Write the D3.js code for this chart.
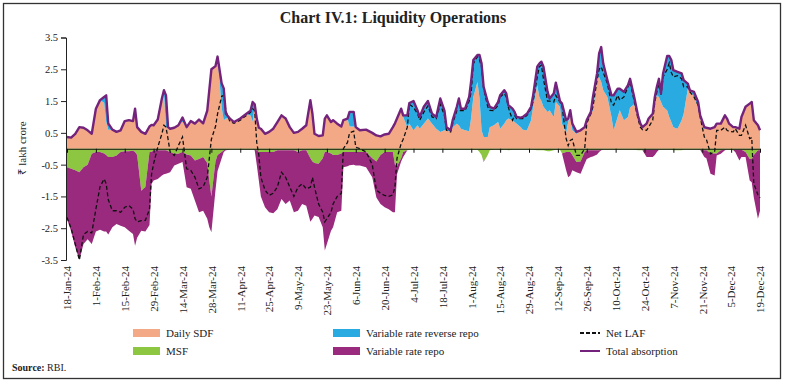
<!DOCTYPE html>
<html>
<head>
<meta charset="utf-8">
<script src="https://cdn.jsdelivr.net/npm/d3@7"></script>
<style>
    body { margin: 0; background: #fff; }
    svg { display: block; font-family: 'Liberation Serif', serif; }
</style>
</head>
<body>
<svg id="mainSvg" width="786" height="384"></svg>
<script>
// * values, ₹ lakh crore
let dates = [
    '2024-01-18', '2024-01-20', '2024-01-22', '2024-01-24', '2024-01-26', '2024-01-28', '2024-01-30',
    '2024-02-01', '2024-02-03', '2024-02-05', '2024-02-06', '2024-02-07', '2024-02-09', '2024-02-11', '2024-02-13', '2024-02-15', '2024-02-17', '2024-02-19', '2024-02-20', '2024-02-21', '2024-02-23', '2024-02-25', '2024-02-27', '2024-02-28', '2024-02-29',
    '2024-03-02', '2024-03-04', '2024-03-05', '2024-03-06', '2024-03-07', '2024-03-08', '2024-03-10', '2024-03-12', '2024-03-14', '2024-03-16', '2024-03-18', '2024-03-20', '2024-03-22', '2024-03-24', '2024-03-26', '2024-03-27', '2024-03-28', '2024-03-30', '2024-03-31',
    '2024-04-02', '2024-04-03', '2024-04-04', '2024-04-06', '2024-04-08', '2024-04-11', '2024-04-14', '2024-04-16', '2024-04-17', '2024-04-18', '2024-04-19', '2024-04-20', '2024-04-21', '2024-04-23', '2024-04-25', '2024-04-27', '2024-04-29',
    '2024-05-01', '2024-05-03', '2024-05-05', '2024-05-07', '2024-05-09', '2024-05-11', '2024-05-13', '2024-05-15', '2024-05-16', '2024-05-17', '2024-05-19', '2024-05-21', '2024-05-22', '2024-05-23', '2024-05-25', '2024-05-26', '2024-05-28', '2024-05-30', '2024-05-31',
    '2024-06-02', '2024-06-03', '2024-06-05', '2024-06-06', '2024-06-08', '2024-06-11', '2024-06-14', '2024-06-16', '2024-06-18', '2024-06-20', '2024-06-22', '2024-06-24', '2024-06-25', '2024-06-26', '2024-06-28', '2024-06-29',
    '2024-07-01', '2024-07-02', '2024-07-04', '2024-07-06', '2024-07-07', '2024-07-09', '2024-07-11', '2024-07-13', '2024-07-15', '2024-07-17', '2024-07-19', '2024-07-20', '2024-07-22', '2024-07-23', '2024-07-25', '2024-07-26', '2024-07-27', '2024-07-29', '2024-07-31',
    '2024-08-01', '2024-08-02', '2024-08-04', '2024-08-05', '2024-08-06', '2024-08-07', '2024-08-09', '2024-08-10', '2024-08-12', '2024-08-14', '2024-08-15', '2024-08-17', '2024-08-18', '2024-08-19', '2024-08-21', '2024-08-22', '2024-08-23', '2024-08-25', '2024-08-26', '2024-08-28', '2024-08-30', '2024-08-31',
    '2024-09-02', '2024-09-03', '2024-09-04', '2024-09-05', '2024-09-07', '2024-09-08', '2024-09-10', '2024-09-11', '2024-09-13', '2024-09-14', '2024-09-16', '2024-09-17', '2024-09-18', '2024-09-19', '2024-09-21', '2024-09-23', '2024-09-25', '2024-09-26', '2024-09-28', '2024-09-29',
    '2024-10-01', '2024-10-02', '2024-10-03', '2024-10-04', '2024-10-06', '2024-10-08', '2024-10-09', '2024-10-11', '2024-10-12', '2024-10-14', '2024-10-16', '2024-10-17', '2024-10-19', '2024-10-21', '2024-10-22', '2024-10-23', '2024-10-25', '2024-10-26', '2024-10-28', '2024-10-29', '2024-10-30', '2024-10-31',
    '2024-11-01', '2024-11-02', '2024-11-04', '2024-11-05', '2024-11-06', '2024-11-07', '2024-11-09', '2024-11-11', '2024-11-12', '2024-11-14', '2024-11-15', '2024-11-17', '2024-11-19', '2024-11-20', '2024-11-22', '2024-11-23', '2024-11-25', '2024-11-27', '2024-11-28', '2024-11-30',
    '2024-12-02', '2024-12-03', '2024-12-04', '2024-12-06', '2024-12-07', '2024-12-09', '2024-12-10', '2024-12-12', '2024-12-14', '2024-12-15', '2024-12-16', '2024-12-18', '2024-12-19'
]

let sdf = [
    0.37, 0.35, 0.47, 0.68, 0.66, 0.58, 0.47,
    1.26, 1.53, 1.45, 0.85, 0.6, 0.6, 0.53, 0.58, 0.87, 0.9, 0.87, 1.26, 0.68, 0.53, 0.47, 0.7, 0.75, 0.74,
    0.92, 1.55, 1.75, 0.68, 0.68, 0.63, 0.66, 0.74, 0.85, 0.68, 0.87, 0.79, 0.92, 0.8, 1.2, 1.85, 2.5, 2.6, 2.9,
    1.3, 0.9, 0.95, 0.95, 0.84, 0.95, 1.1, 1.05, 0.85, 1.35, 0.95, 0.66, 0.63, 0.47, 0.53, 0.63, 0.84,
    1.05, 0.95, 0.68, 0.5, 0.53, 0.63, 0.74, 1.53, 1.1, 0.47, 0.4, 0.42, 0.95, 1.05, 0.84, 0.9, 0.79, 0.7, 0.9,
    0.95, 0.7, 0.7, 0.68, 0.58, 0.6, 0.5, 0.42, 0.39, 0.45, 0.47, 0.68, 0.8, 0.95, 1.26, 1.0,
    0.68, 0.79, 0.58, 0.74, 0.63, 0.79, 0.95, 0.79, 0.63, 0.53, 0.58, 0.58, 0.53, 0.68, 0.79, 0.74, 0.63, 0.58, 0.55,
    1.0, 1.63, 2.1, 1.6, 0.58, 0.37, 0.37, 0.68, 0.74, 0.84, 0.63, 0.79, 0.9, 0.95, 0.9, 0.84, 0.79, 0.68, 0.6, 0.58, 0.9, 1.32,
    2.0, 1.63, 1.5, 1.32, 1.16, 1.21, 1.0, 1.47, 1.32, 0.79, 0.5, 0.84, 1.1, 0.58, 0.47, 0.58, 0.68, 0.9, 1.1, 1.21,
    2.2, 2.26, 2.1, 1.84, 1.63, 1.0, 0.58, 1.0, 1.21, 0.9, 1.0, 1.3, 1.4, 1.0, 0.79, 0.68, 0.79, 0.95, 1.1, 1.5, 1.68, 1.63,
    1.47, 1.32, 1.2, 1.0, 0.84, 0.68, 0.63, 0.9, 1.1, 1.89, 1.84, 1.63, 1.32, 0.95, 0.63, 0.66, 0.63, 0.68, 0.79, 0.79,
    1.05, 0.95, 0.79, 0.68, 0.68, 0.63, 1.0, 1.32, 1.42, 1.47, 0.9, 0.74, 0.58
]

let vrrr = [
    0, 0, 0, 0, 0, 0, 0,
    0, 0, 0.18, 0.83, 0.2, 0, 0, 0, 0, 0, 0, 0, 0, 0, 0, 0, 0, 0,
    0, 0.03, 0.09, 1.0, 0, 0, 0, 0, 0.13, 0, 0, 0, 0, 0, 0, 0, 0, 0, 0,
    0.75, 1.0, 0.15, 0, 0, 0, 0, 0.15, 0.62, 0.05, 0, 0, 0, 0, 0, 0, 0,
    0, 0, 0, 0, 0, 0, 0, 0, 0, 0, 0, 0, 0, 0, 0, 0, 0, 0, 0,
    0, 0.46, 0.46, 0, 0, 0, 0, 0, 0, 0, 0, 0, 0, 0, 0, 0.05,
    0.37, 0.65, 0.92, 0.46, 0.37, 0.53, 0.55, 0.31, 0.37, 1.05, 0.62, 0.1, 0.05, 0.22, 0.53, 0.84, 0.63, 0.68, 1.08,
    1.16, 1.16, 0.85, 1.35, 2.1, 1.58, 1.1, 0.64, 0.52, 0.63, 1.05, 1.05, 0.84, 0.42, 0.36, 0.32, 0.21, 0.3, 0.4, 0.52, 0.42, 0.36,
    0.58, 1.05, 1.24, 1.26, 0.63, 0.37, 0.74, 0.61, 0.18, 0.63, 0.4, 0.11, 0.11, 0.21, 0.06, 0, 0, 0, 0.06, 0.42,
    0.17, 0.74, 1.1, 0.84, 0.53, 0.68, 1.1, 0.89, 0.68, 0.89, 1.0, 0.9, 0.23, 0, 0, 0, 0, 0, 0, 0.13, 0.27, 0.57,
    0.27, 1.05, 1.72, 1.92, 1.95, 1.79, 1.79, 1.47, 1.06, 0.16, 0, 0.16, 0.15, 0.1, 0.05, 0, 0, 0, 0, 0,
    0, 0, 0, 0, 0, 0, 0, 0, 0, 0, 0, 0, 0
]

let msf = [
    -0.58, -0.63, -0.68, -0.74, -0.58, -0.5, -0.16,
    -0.1, -0.1, -0.15, -0.2, -0.26, -0.26, -0.21, -0.1, -0.08, -0.08, -0.06, -0.1, -0.2, -1.32, -1.2, -0.1, -0.1, -0.05,
    -0.05, -0.05, -0.05, -0.05, -0.08, -0.1, -0.16, -0.16, -0.1, -0.18, -0.21, -0.37, -0.32, -0.26, -0.45, -1.0, -1.5, -0.4, -0.2,
    -0.1, -0.05, -0.03, -0.03, -0.03, -0.03, -0.03, -0.03, -0.03, -0.03, -0.05, -0.1, -0.1, -0.1, -0.1, -0.1, -0.05,
    -0.05, -0.05, -0.05, -0.05, -0.1, -0.05, -0.05, -0.3, -0.4, -0.45, -0.47, -0.3, -0.1, -0.1, -0.15, -0.2, -0.2, -0.15, -0.1,
    -0.1, -0.1, -0.1, -0.1, -0.1, -0.1, -0.3, -0.4, -0.2, -0.1, -0.1, -0.1, -0.5, -0.55, -0.3, -0.1,
    -0.05, -0.03, -0.03, -0.03, -0.03, -0.03, -0.03, -0.03, -0.03, -0.03, -0.03, -0.03, -0.03, -0.03, -0.03, -0.03, -0.03, -0.03, -0.03,
    -0.03, -0.03, -0.03, -0.1, -0.2, -0.4, -0.2, -0.05, -0.03, -0.03, -0.05, -0.03, -0.03, -0.05, -0.03, -0.03, -0.03, -0.03, -0.03, -0.03, -0.03, -0.03,
    -0.05, -0.05, -0.05, -0.05, -0.08, -0.08, -0.05, -0.03, -0.03, -0.15, -0.1, -0.1, -0.1, -0.2, -0.42, -0.4, -0.1, -0.05, -0.05, -0.05,
    -0.05, -0.05, -0.03, -0.03, -0.03, -0.03, -0.03, -0.03, -0.03, -0.03, -0.03, -0.03, -0.03, -0.05, -0.05, -0.05, -0.03, -0.03, -0.03, -0.03, -0.03, -0.03,
    -0.03, -0.03, -0.03, -0.03, -0.03, -0.05, -0.05, -0.05, -0.03, -0.03, -0.03, -0.03, -0.03, -0.03, -0.05, -0.05, -0.15, -0.15, -0.15, -0.05,
    -0.03, -0.03, -0.03, -0.05, -0.03, -0.03, -0.03, -0.1, -0.32, -0.32, -0.2, -0.05, -0.05
]

let repo = [
    -1.62, -1.97, -2.42, -2.76, -2.42, -2.35, -2.84,
    -2.5, -2.45, -2.45, -2.4, -2.44, -2.21, -2.16, -2.32, -2.39, -2.5, -2.62, -2.95, -2.6, -1.26, -1.4, -2.3, -1.0, -0.95,
    -0.9, -0.79, -0.75, -0.74, -0.68, -0.64, -0.37, -0.31, -0.32, -1.03, -1.05, -1.26, -1.68, -1.69, -1.75, -1.47, -1.13, -0.9, -0.5,
    -0.2, -0.05, -0.02, 0, 0, 0, 0, 0, 0, -0.02, -0.45, -0.9, -1.4, -1.74, -1.9, -1.93, -1.85,
    -1.53, -1.69, -1.58, -1.95, -1.85, -1.69, -1.74, -2.0, -1.8, -1.65, -1.68, -2.17, -3.1, -2.9, -2.43, -2.27, -1.8, -1.8, -0.48,
    -0.45, -0.42, -0.4, -0.43, -0.43, -0.48, -0.6, -1.13, -1.54, -1.74, -1.8, -1.9, -1.5, -0.25, -0.1, -0.16,
    0, 0, 0, 0, 0, 0, 0, 0, 0, 0, 0, 0, 0, 0, 0, 0, 0, 0, 0,
    0, 0, 0, 0, 0, -0.02, 0, 0, 0, 0, 0, 0, 0, 0, 0, 0, 0, 0, 0, 0, 0, 0,
    0, 0, 0, 0, 0, 0, 0, 0, 0, 0, -0.58, -0.8, -0.74, -0.48, -0.32, -0.39, -0.37, -0.27, -0.21, -0.19,
    -0.13, -0.05, -0.02, 0, 0, 0, 0, 0, 0, 0, 0, 0, 0, 0, 0, 0, -0.23, -0.23, -0.23, -0.17, -0.07, 0,
    0, 0, 0, 0, 0, 0, 0, 0, 0, 0, 0, 0, 0, 0, -0.21, -0.25, -0.64, -0.69, -0.06, -0.11,
    -0.02, 0, 0, 0, -0.07, -0.34, -0.23, -0.16, -0.68, -0.73, -1.33, -2.15, -1.9
]

let netLaf = [
    -2.16, -2.5, -3.0, -3.5, -2.7, -2.6, -2.65,
    -1.9, -1.2, -0.95, -1.1, -1.6, -1.95, -1.95, -2.0, -1.84, -1.79, -1.9, -2.2, -2.3, -2.26, -2.25, -1.9, -0.8, -0.47,
    0.05, 0.47, 0.74, 0.68, 0.3, -0.1, -0.21, 0.1, 0.37, -0.63, -0.68, -0.89, -1.26, -1.2, -0.9, -0.3, 0.3, 0.7, 1.1,
    1.65, 1.68, 1.2, 0.85, 0.8, 0.9, 1.05, 1.15, 1.26, 1.2, 0.2, -0.2, -0.9, -1.3, -1.47, -1.4, -1.2,
    -0.74, -0.9, -1.2, -1.5, -1.21, -1.1, -1.26, -1.21, -0.9, -1.21, -1.74, -2.0, -2.3, -2.2, -2.0, -1.74, -1.5, -1.4, 0,
    0.2, 0.5, 0.55, 0.05, 0, -0.1, -0.5, -1.3, -1.4, -1.47, -1.5, -1.45, -1.2, -0.3, 0.16, 0.3,
    0.68, 1.4, 1.3, 1.1, 0.9, 1.15, 1.35, 1.0, 0.95, 1.4, 1.05, 0.58, 0.53, 0.8, 1.2, 1.2, 1.2, 1.2, 1.5,
    1.8, 2.68, 2.9, 2.8, 2.58, 1.9, 1.32, 1.21, 1.2, 1.37, 1.63, 1.74, 1.63, 1.3, 0.9, 1.05, 0.95, 0.95, 0.95, 1.05, 1.26, 1.5,
    2.26, 2.58, 2.63, 2.2, 1.5, 1.5, 1.47, 1.68, 1.47, 1.37, 0.32, 0.1, 0.26, 0.3, -0.21, -0.21, 0, 0.8, 1.1, 1.32,
    2.16, 2.5, 2.58, 2.4, 2.05, 1.42, 1.37, 1.68, 1.53, 1.63, 1.95, 2.1, 1.5, 0.9, 0.68, 0.6, 0.58, 0.68, 0.9, 1.47, 1.79, 2.05,
    1.7, 2.26, 2.5, 2.7, 2.4, 2.26, 2.3, 2.2, 1.95, 1.95, 1.79, 1.63, 1.37, 1.0, 0.37, 0.3, -0.16, -0.1, 0.58, 0.58,
    0.68, 0.58, 0.55, 0.53, 0.63, 0.42, 0.42, 0.74, 0.32, 0.35, -1.1, -1.45, -1.55
]

let tickDates = [
    '2024-01-18', '2024-02-01', '2024-02-15', '2024-02-29', '2024-03-14', '2024-03-28', '2024-04-11',
    '2024-04-25', '2024-05-09', '2024-05-23', '2024-06-06', '2024-06-20', '2024-07-04', '2024-07-18',
    '2024-08-01', '2024-08-15', '2024-08-29', '2024-09-12', '2024-09-26', '2024-10-10', '2024-10-24',
    '2024-11-07', '2024-11-21', '2024-12-05', '2024-12-19'
]
let yTicks = [3.5, 2.5, 1.5, 0.5, -0.5, -1.5, -2.5, -3.5]

let colors = {
    sdf: '#F3A985',
    vrrr: '#29ABE2',
    msf: '#8DC641',
    repo: '#9A2A7E',
    total: '#74237C'
}

let svg = d3.select('#mainSvg')
let parse = d3.timeParse('%Y-%m-%d')

let data = dates.map(function (d, i) {
    return { date: parse(d), sdf: sdf[i], vrrr: vrrr[i], msf: msf[i], repo: repo[i], laf: netLaf[i] }
})

let x = d3.scaleTime()
    .domain([parse('2024-01-18'), parse('2024-12-19')])
    .range([67, 760])
let y = d3.scaleLinear()
    .domain([-3.5, 3.5])
    .range([260, 37.5])

// * outer frame
svg.append('rect')
    .attr('x', 3.5).attr('y', 3.5)
    .attr('width', 777).attr('height', 375)
    .attr('fill', 'none')
    .attr('stroke', '#333')
    .attr('stroke-width', 1.3)

svg.append('text')
    .attr('x', 393).attr('y', 23)
    .attr('text-anchor', 'middle')
    .attr('font-size', 16)
    .attr('font-weight', 'bold')
    .attr('fill', '#222')
    .text('Chart IV.1: Liquidity Operations')

// * stacked areas: absorption stacks up, injection stacks down
let upper = d3.stack().keys(['sdf', 'vrrr'])(data)
let lower = d3.stack().keys(['msf', 'repo'])(data)
let series = upper.concat(lower)

let area = d3.area()
    .x(d => x(d.data.date))
    .y0(d => y(d[0]))
    .y1(d => y(d[1]))

svg.append('g')
    .selectAll('path')
    .data(series)
    .enter()
    .append('path')
    .attr('d', area)
    .attr('fill', d => colors[d.key])

// * y axis
let yAxis = svg.append('g')
    .attr('transform', 'translate(66,0)')
    .call(d3.axisLeft(y).tickValues(yTicks).tickSize(5).tickFormat(d => d.toFixed(1)))
yAxis.select('.domain').attr('stroke', '#222')
yAxis.selectAll('.tick line').attr('stroke', '#222')
yAxis.selectAll('.tick text')
    .attr('font-family', 'Liberation Serif')
    .attr('font-size', 10.5)
    .attr('fill', '#222')

svg.append('text')
    .attr('transform', 'translate(26,148) rotate(-90)')
    .attr('text-anchor', 'middle')
    .attr('font-size', 11)
    .attr('fill', '#222')
    .text('₹ lakh crore')

// * zero line with date ticks
let xAxis = svg.append('g')
    .attr('transform', 'translate(0,' + y(0) + ')')
    .call(d3.axisBottom(x).tickValues(tickDates.map(parse)).tickSize(4).tickFormat('').tickSizeOuter(0))
xAxis.select('.domain').attr('stroke', '#111').attr('stroke-width', 1.2)
xAxis.selectAll('.tick line').attr('stroke', '#111')

let fmt = d3.timeFormat('%-d-%b-%y')
svg.append('g')
    .selectAll('text')
    .data(tickDates.map(parse))
    .enter()
    .append('text')
    .attr('transform', d => 'translate(' + (x(d) + 0.5) + ',266) rotate(-90)')
    .attr('text-anchor', 'end')
    .attr('dy', '0.35em')
    .attr('font-size', 11)
    .attr('fill', '#222')
    .text(fmt)

// * net LAF and total absorption lines
svg.append('path')
    .datum(data)
    .attr('d', d3.line().x(d => x(d.date)).y(d => y(d.laf)))
    .attr('fill', 'none')
    .attr('stroke', '#111')
    .attr('stroke-width', 1.3)
    .attr('stroke-dasharray', '4,2.5')

let topSeries = upper[upper.length - 1]
svg.append('path')
    .datum(topSeries)
    .attr('d', d3.line().x(d => x(d.data.date)).y(d => y(d[1])))
    .attr('fill', 'none')
    .attr('stroke', colors.total)
    .attr('stroke-width', 2.4)
    .attr('stroke-linejoin', 'round')

// * legend
let legend = [
    { label: 'Daily SDF', kind: 'box', color: colors.sdf, x: 133, y: 333 },
    { label: 'MSF', kind: 'box', color: colors.msf, x: 133, y: 351 },
    { label: 'Variable rate reverse repo', kind: 'box', color: colors.vrrr, x: 333, y: 333 },
    { label: 'Variable rate repo', kind: 'box', color: colors.repo, x: 333, y: 351 },
    { label: 'Net LAF', kind: 'dash', color: '#111', x: 580, y: 333 },
    { label: 'Total absorption', kind: 'line', color: colors.total, x: 580, y: 351 }
]
let lg = svg.append('g')
    .selectAll('g')
    .data(legend)
    .enter()
    .append('g')
    .attr('transform', d => 'translate(' + d.x + ',' + d.y + ')')

lg.filter(d => d.kind === 'box')
    .append('rect')
    .attr('x', 0).attr('y', -4)
    .attr('width', 27).attr('height', 8)
    .attr('fill', d => d.color)
lg.filter(d => d.kind !== 'box')
    .append('line')
    .attr('x1', 0).attr('x2', 20)
    .attr('stroke', d => d.color)
    .attr('stroke-width', 2)
    .attr('stroke-dasharray', d => d.kind === 'dash' ? '4,2' : null)
lg.append('text')
    .attr('x', d => d.kind === 'box' ? 33 : 26)
    .attr('dy', '0.35em')
    .attr('font-size', 11)
    .attr('fill', '#222')
    .text(d => d.label)

let src = svg.append('text')
    .attr('x', 12).attr('y', 371)
    .attr('font-size', 10)
    .attr('fill', '#222')
src.append('tspan').attr('font-weight', 'bold').text('Source:')
src.append('tspan').text(' RBI.')
</script>
</body>
</html>
